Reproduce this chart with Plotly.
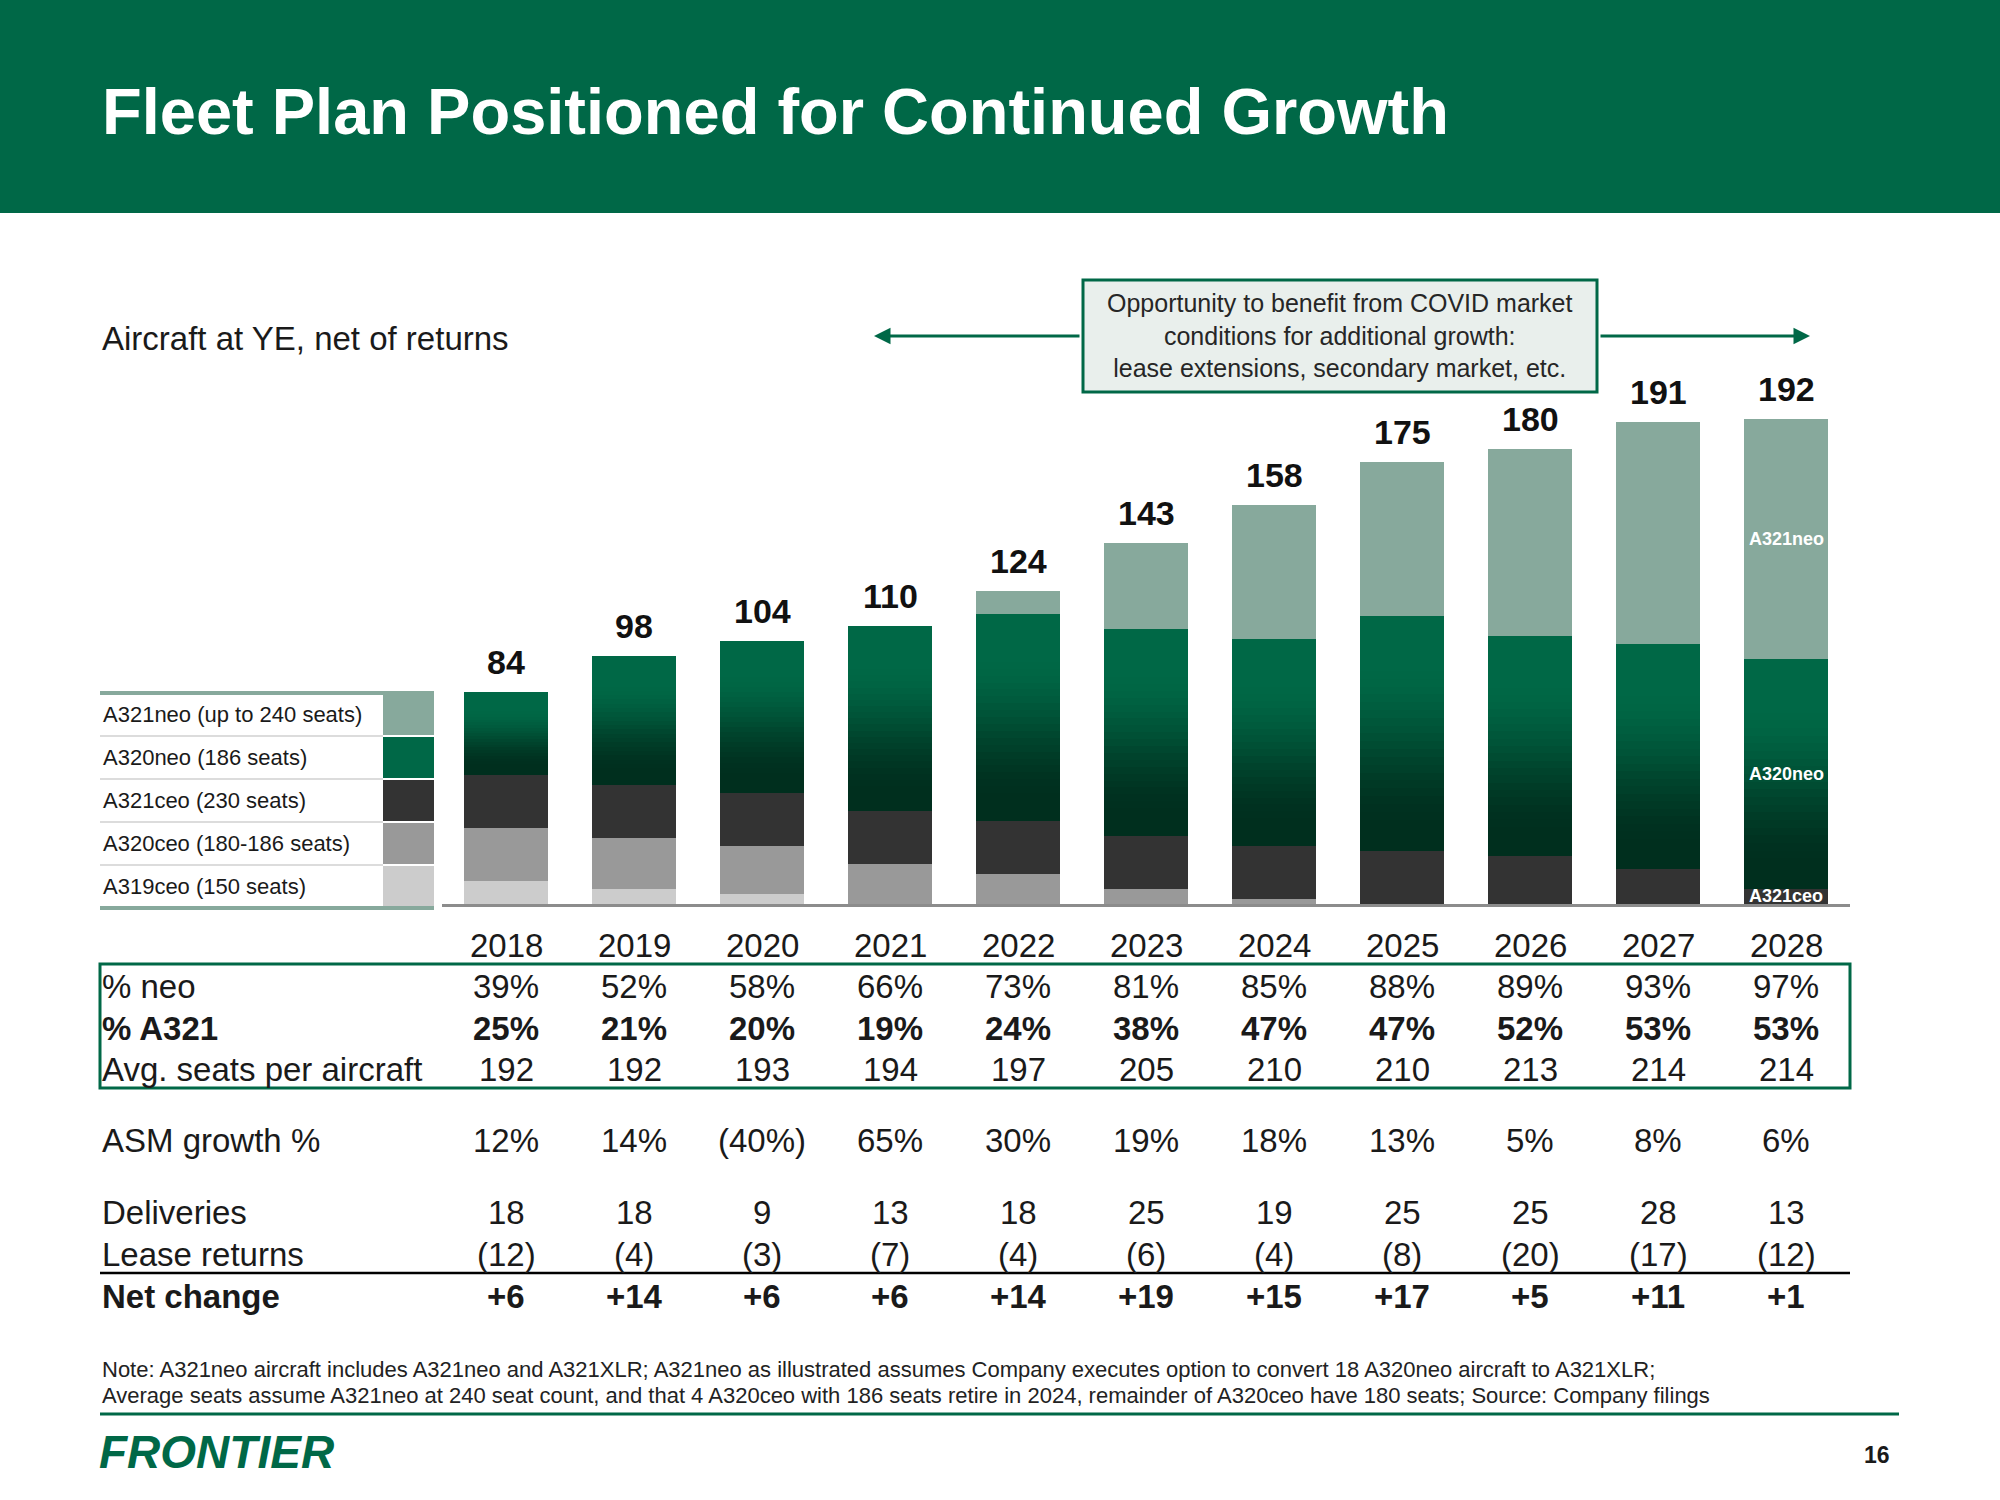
import plotly.graph_objects as go

# ---------------- data ----------------
years = ["2018", "2019", "2020", "2021", "2022", "2023", "2024", "2025", "2026", "2027", "2028"]
a321neo = [0, 0, 0, 0, 9, 34, 53, 61, 74, 88, 95]
a320neo = [33, 51, 60, 73, 82, 82, 82, 93, 87, 89, 91]
a321ceo = [21, 21, 21, 21, 21, 21, 21, 21, 19, 14, 6]
a320ceo = [21, 20, 19, 16, 12, 6, 2, 0, 0, 0, 0]
a319ceo = [9, 6, 4, 0, 0, 0, 0, 0, 0, 0, 0]

pct_neo = ["39%", "52%", "58%", "66%", "73%", "81%", "85%", "88%", "89%", "93%", "97%"]
pct_a321 = ["25%", "21%", "20%", "19%", "24%", "38%", "47%", "47%", "52%", "53%", "53%"]
avg_seats = ["192", "192", "193", "194", "197", "205", "210", "210", "213", "214", "214"]
asm_growth = ["12%", "14%", "(40%)", "65%", "30%", "19%", "18%", "13%", "5%", "8%", "6%"]
deliveries = ["18", "18", "9", "13", "18", "25", "19", "25", "25", "28", "13"]
lease_returns = ["(12)", "(4)", "(3)", "(7)", "(4)", "(6)", "(4)", "(8)", "(20)", "(17)", "(12)"]
net_change = ["+6", "+14", "+6", "+6", "+14", "+19", "+15", "+17", "+5", "+11", "+1"]

legend_labels = ["A321neo (up to 240 seats)", "A320neo (186 seats)", "A321ceo (230 seats)",
                 "A320ceo (180-186 seats)", "A319ceo (150 seats)"]

title = "Fleet Plan Positioned for Continued Growth"
subtitle = "Aircraft at YE, net of returns"
box_text = "Opportunity to benefit from COVID market<br>conditions for additional growth:<br>lease extensions, secondary market, etc."
note1 = "Note: A321neo aircraft includes A321neo and A321XLR; A321neo as illustrated assumes Company executes option to convert 18 A320neo aircraft to A321XLR;"
note2 = "Average seats assume A321neo at 240 seat count, and that 4 A320ceo with 186 seats retire in 2024, remainder of A320ceo have 180 seats; Source: Company filings"

# ---------------- style ----------------
FONT = "Liberation Sans, Arial, sans-serif"
GREEN = "#006847"
C_A321NEO = "#87A99C"
C_A321CEO = "#333333"
C_A320CEO = "#999999"
C_A319CEO = "#CCCCCC"
TXT = "#1a1a1a"

W, H = 2000, 1500
def X(px):
    return px / W
def Y(py):
    return 1 - py / H

totals = [a + b + c + d + e for a, b, c, d, e in zip(a321neo, a320neo, a321ceo, a320ceo, a319ceo)]
xi = list(range(len(years)))  # category positions

fig = go.Figure()

def add_bar(vals, color, name):
    fig.add_trace(go.Bar(x=xi, y=vals, marker=dict(color=color, line=dict(width=0)),
                         name=name, showlegend=False, hoverinfo="skip"))

add_bar(a319ceo, C_A319CEO, "A319ceo")
add_bar(a320ceo, C_A320CEO, "A320ceo")
add_bar(a321ceo, C_A321CEO, "A321ceo")

# A320neo segment drawn as vertical gradient (dark at bottom, green at top)
top_rgb = (0, 104, 70)
bot_rgb = (0, 47, 30)
N = 30
for k in range(N):
    t = 1 - (k + 0.5) / N  # 0 at top, 1 at bottom
    s = min(max((t - 0.2) / 0.7, 0), 1)
    s = s * s * (3 - 2 * s)
    rgb = tuple(round(top_rgb[i] + (bot_rgb[i] - top_rgb[i]) * s) for i in range(3))
    add_bar([v / N for v in a320neo], "rgb(%d,%d,%d)" % rgb, "A320neo")

add_bar(a321neo, C_A321NEO, "A321neo")

annotations = []
shapes = []

# header
shapes.append(dict(type="rect", xref="paper", yref="paper", x0=0, x1=1, y0=Y(213), y1=1,
                   fillcolor=GREEN, line=dict(width=0), layer="below"))
annotations.append(dict(text="<b>" + title + "</b>", xref="paper", yref="paper", x=X(100), y=Y(112),
                        xanchor="left", yanchor="middle", showarrow=False,
                        font=dict(family=FONT, size=65, color="white")))

# subtitle
annotations.append(dict(text=subtitle, xref="paper", yref="paper", x=X(100), y=Y(339),
                        xanchor="left", yanchor="middle", showarrow=False,
                        font=dict(family=FONT, size=33, color=TXT)))

# totals above bars
for i, tot in zip(xi, totals):
    annotations.append(dict(text="<b>%d</b>" % tot, x=i, y=tot, xref="x", yref="y",
                            xanchor="center", yanchor="bottom", yshift=9, showarrow=False,
                            font=dict(family=FONT, size=34, color="#111111")))

# in-bar labels on last bar
last = len(years) - 1
base_neo = a319ceo[last] + a320ceo[last] + a321ceo[last]
inbar = [
    ("A321neo", base_neo + a320neo[last] + a321neo[last] / 2),
    ("A320neo", base_neo + a320neo[last] / 2),
    ("A321ceo", a319ceo[last] + a320ceo[last] + a321ceo[last] / 2),
]
for lbl, yv in inbar:
    annotations.append(dict(text="<b>" + lbl + "</b>", x=last, y=yv, xref="x", yref="y",
                            xanchor="center", yanchor="middle", showarrow=False,
                            font=dict(family=FONT, size=18, color="white")))

# opportunity box and arrows
shapes.append(dict(type="rect", xref="paper", yref="paper", x0=X(1083), x1=X(1597), y0=Y(392), y1=Y(280),
                   fillcolor="#E9EFEC", line=dict(color=GREEN, width=3)))
annotations.append(dict(text=box_text, xref="paper", yref="paper", x=X(1340), y=Y(336),
                        xanchor="center", yanchor="middle", showarrow=False, align="center",
                        font=dict(family=FONT, size=25, color="#262626")))
annotations.append(dict(text="", xref="paper", yref="paper", x=X(874), y=Y(336), ax=1081 - 874, ay=0,
                        showarrow=True, arrowhead=2, arrowsize=1.1, arrowwidth=3, arrowcolor=GREEN))
annotations.append(dict(text="", xref="paper", yref="paper", x=X(1810), y=Y(336), ax=1599 - 1810, ay=0,
                        showarrow=True, arrowhead=2, arrowsize=1.1, arrowwidth=3, arrowcolor=GREEN))

# legend block
leg_colors = [C_A321NEO, GREEN, C_A321CEO, C_A320CEO, C_A319CEO]
row_edges = [693, 736, 779, 822, 865, 908]
for i, (lbl, col) in enumerate(zip(legend_labels, leg_colors)):
    y0, y1 = row_edges[i], row_edges[i + 1]
    shapes.append(dict(type="rect", xref="paper", yref="paper", x0=X(383), x1=X(434),
                       y0=Y(y1 - 1), y1=Y(y0 + 1), fillcolor=col, line=dict(width=0)))
    annotations.append(dict(text=lbl, xref="paper", yref="paper", x=X(101), y=Y((y0 + y1) / 2),
                            xanchor="left", yanchor="middle", showarrow=False,
                            font=dict(family=FONT, size=22, color=TXT)))
for ye in row_edges[1:-1]:
    shapes.append(dict(type="line", xref="paper", yref="paper", x0=X(100), x1=X(383), y0=Y(ye), y1=Y(ye),
                       line=dict(color="#D0D0D0", width=1.5)))
for ye in (row_edges[0], row_edges[-1]):
    shapes.append(dict(type="line", xref="paper", yref="paper", x0=X(100), x1=X(434), y0=Y(ye), y1=Y(ye),
                       line=dict(color=C_A321NEO, width=4)))

# table
rows = [
    (None, years, 945, False),
    ("% neo", pct_neo, 986, False),
    ("% A321", pct_a321, 1028, True),
    ("Avg. seats per aircraft", avg_seats, 1069, False),
    ("ASM growth %", asm_growth, 1140, False),
    ("Deliveries", deliveries, 1212, False),
    ("Lease returns", lease_returns, 1254, False),
    ("Net change", net_change, 1296, True),
]
for label, vals, ypx, bold in rows:
    wrap = (lambda s: "<b>" + s + "</b>") if bold else (lambda s: s)
    if label:
        annotations.append(dict(text=wrap(label), xref="paper", yref="paper", x=X(100), y=Y(ypx),
                                xanchor="left", yanchor="middle", showarrow=False,
                                font=dict(family=FONT, size=33, color=TXT)))
    for i, v in zip(xi, vals):
        annotations.append(dict(text=wrap(v), x=i, xref="x", yref="paper", y=Y(ypx),
                                xanchor="center", yanchor="middle", showarrow=False,
                                font=dict(family=FONT, size=33, color=TXT)))

shapes.append(dict(type="rect", xref="paper", yref="paper", x0=X(100), x1=X(1850), y0=Y(1088), y1=Y(964),
                   line=dict(color=GREEN, width=3)))
shapes.append(dict(type="line", xref="paper", yref="paper", x0=X(100), x1=X(1850), y0=Y(1273), y1=Y(1273),
                   line=dict(color="#000000", width=2.5)))

# notes and footer
annotations.append(dict(text=note1, xref="paper", yref="paper", x=X(100), y=Y(1369),
                        xanchor="left", yanchor="middle", showarrow=False,
                        font=dict(family=FONT, size=22, color="#222222")))
annotations.append(dict(text=note2, xref="paper", yref="paper", x=X(100), y=Y(1395),
                        xanchor="left", yanchor="middle", showarrow=False,
                        font=dict(family=FONT, size=22, color="#222222")))
shapes.append(dict(type="line", xref="paper", yref="paper", x0=X(100), x1=X(1899), y0=Y(1414), y1=Y(1414),
                   line=dict(color=GREEN, width=3)))
annotations.append(dict(text="<b><i>FRONTIER</i></b>", xref="paper", yref="paper", x=X(97), y=Y(1452),
                        xanchor="left", yanchor="middle", showarrow=False,
                        font=dict(family=FONT, size=46, color=GREEN)))
annotations.append(dict(text="<b>16</b>", xref="paper", yref="paper", x=X(1877), y=Y(1455),
                        xanchor="center", yanchor="middle", showarrow=False,
                        font=dict(family=FONT, size=23, color=TXT)))

fig.update_layout(
    width=W, height=H,
    margin=dict(l=0, r=0, t=0, b=0),
    paper_bgcolor="white", plot_bgcolor="white",
    barmode="stack", bargap=0.344,
    showlegend=False,
    font=dict(family=FONT),
    xaxis=dict(domain=[X(442), X(1850)], range=[-0.5, 10.5],
               showline=True, linecolor="#8C8C8C", linewidth=3, showticklabels=False,
               ticks="", showgrid=False, zeroline=False, fixedrange=True),
    yaxis=dict(domain=[Y(904), Y(323)], range=[0, 230], visible=False, showgrid=False,
               zeroline=False, fixedrange=True),
    annotations=annotations,
    shapes=shapes,
)

fig.write_html("out.html", config={"displayModeBar": False},
               post_script="document.body.style.margin='0';document.body.style.overflow='hidden';")
